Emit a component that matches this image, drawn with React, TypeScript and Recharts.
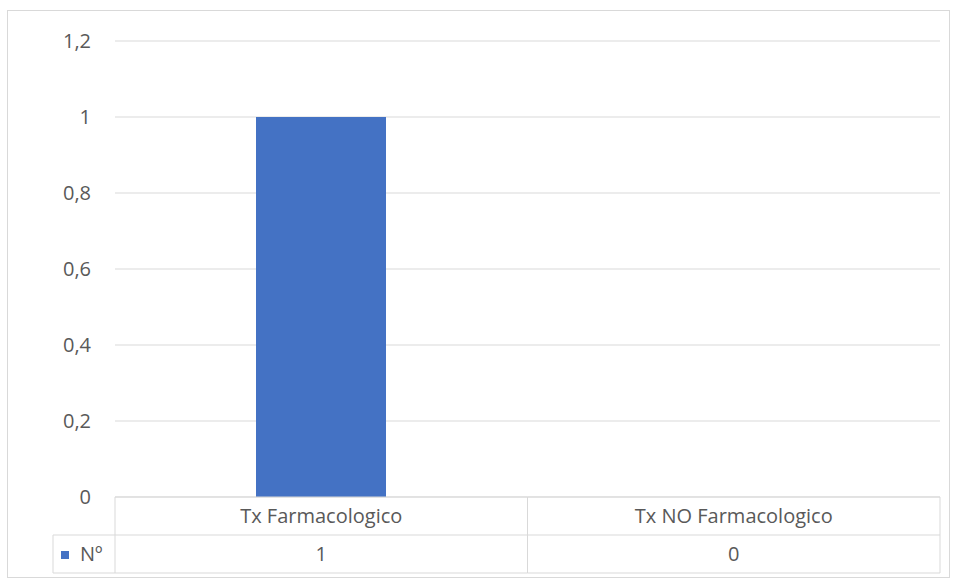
import React from "react";
import { BarChart, Bar, XAxis, YAxis, CartesianGrid } from "recharts";

const categories = ["Tx Farmacologico", "Tx NO Farmacologico"];
const values = [1, 0];
const seriesName = "Nº";
const yTicks = [0, 0.2, 0.4, 0.6, 0.8, 1, 1.2];

const W = 958;
const H = 580;
const PLOT_LEFT = 115;
const PLOT_RIGHT = 18;
const ROW = 38;
const BAR_COLOR = "#4472C4";
const LINE = "#d9d9d9";
const TEXT = "#595959";
const FONT = "'Open Sans', sans-serif";
const FS = 20;

const data = categories.map((name, i) => ({ name, value: values[i] }));
const band = (W - PLOT_LEFT - PLOT_RIGHT) / categories.length;

function TableTick(props: any) {
  const { x, y, payload, index } = props;
  const left = x - band / 2;
  const right = x + band / 2;
  const txt = { fontFamily: FONT, fontSize: FS, fill: TEXT, textAnchor: "middle" as const };
  return (
    <g>
      <line x1={left} x2={left} y1={y} y2={y + ROW * 2} stroke={LINE} />
      <line x1={right} x2={right} y1={y} y2={y + ROW * 2} stroke={LINE} />
      <line x1={left} x2={right} y1={y} y2={y} stroke={LINE} />
      <line x1={left} x2={right} y1={y + ROW} y2={y + ROW} stroke={LINE} />
      <line x1={left} x2={right} y1={y + ROW * 2} y2={y + ROW * 2} stroke={LINE} />
      <text x={x} y={y + 26} {...txt}>{payload.value}</text>
      <text x={x} y={y + ROW + 26} {...txt}>{values[index]}</text>
      {index === 0 && (
        <g>
          <line x1={53} x2={left} y1={y + ROW} y2={y + ROW} stroke={LINE} />
          <line x1={53} x2={left} y1={y + ROW * 2} y2={y + ROW * 2} stroke={LINE} />
          <line x1={53} x2={53} y1={y + ROW} y2={y + ROW * 2} stroke={LINE} />
          <rect x={61} y={y + ROW + 16} width={8} height={8} fill={BAR_COLOR} />
          <text x={80} y={y + ROW + 26} fontFamily={FONT} fontSize={FS} fill={TEXT}>
            {seriesName}
          </text>
        </g>
      )}
    </g>
  );
}

export default function App() {
  return (
    <div style={{ position: "absolute", left: 0, top: 0, width: W, height: H, background: "#fff" }}>
      <div
        style={{
          position: "absolute",
          left: 7,
          top: 10,
          width: 943,
          height: 568,
          border: "1px solid #d9d9d9",
          boxSizing: "border-box",
        }}
      />
      <BarChart
        width={W}
        height={H}
        data={data}
        margin={{ top: 41, right: PLOT_RIGHT, left: 0, bottom: 0 }}
        style={{ position: "absolute", left: 0, top: 0 }}
      >
        <CartesianGrid vertical={false} stroke={LINE} />
        <YAxis
          width={PLOT_LEFT}
          domain={[0, 1.2]}
          ticks={yTicks}
          axisLine={false}
          tickLine={false}
          tickSize={0}
          tickMargin={24}
          tick={{ fontFamily: FONT, fontSize: FS, fill: TEXT }}
          tickFormatter={(v) => String(v).replace(".", ",")}
        />
        <XAxis
          dataKey="name"
          height={83}
          axisLine={false}
          tickLine={false}
          tickSize={0}
          tickMargin={0}
          interval={0}
          tick={<TableTick />}
        />
        <Bar dataKey="value" fill={BAR_COLOR} barSize={130} isAnimationActive={false} />
      </BarChart>
    </div>
  );
}
